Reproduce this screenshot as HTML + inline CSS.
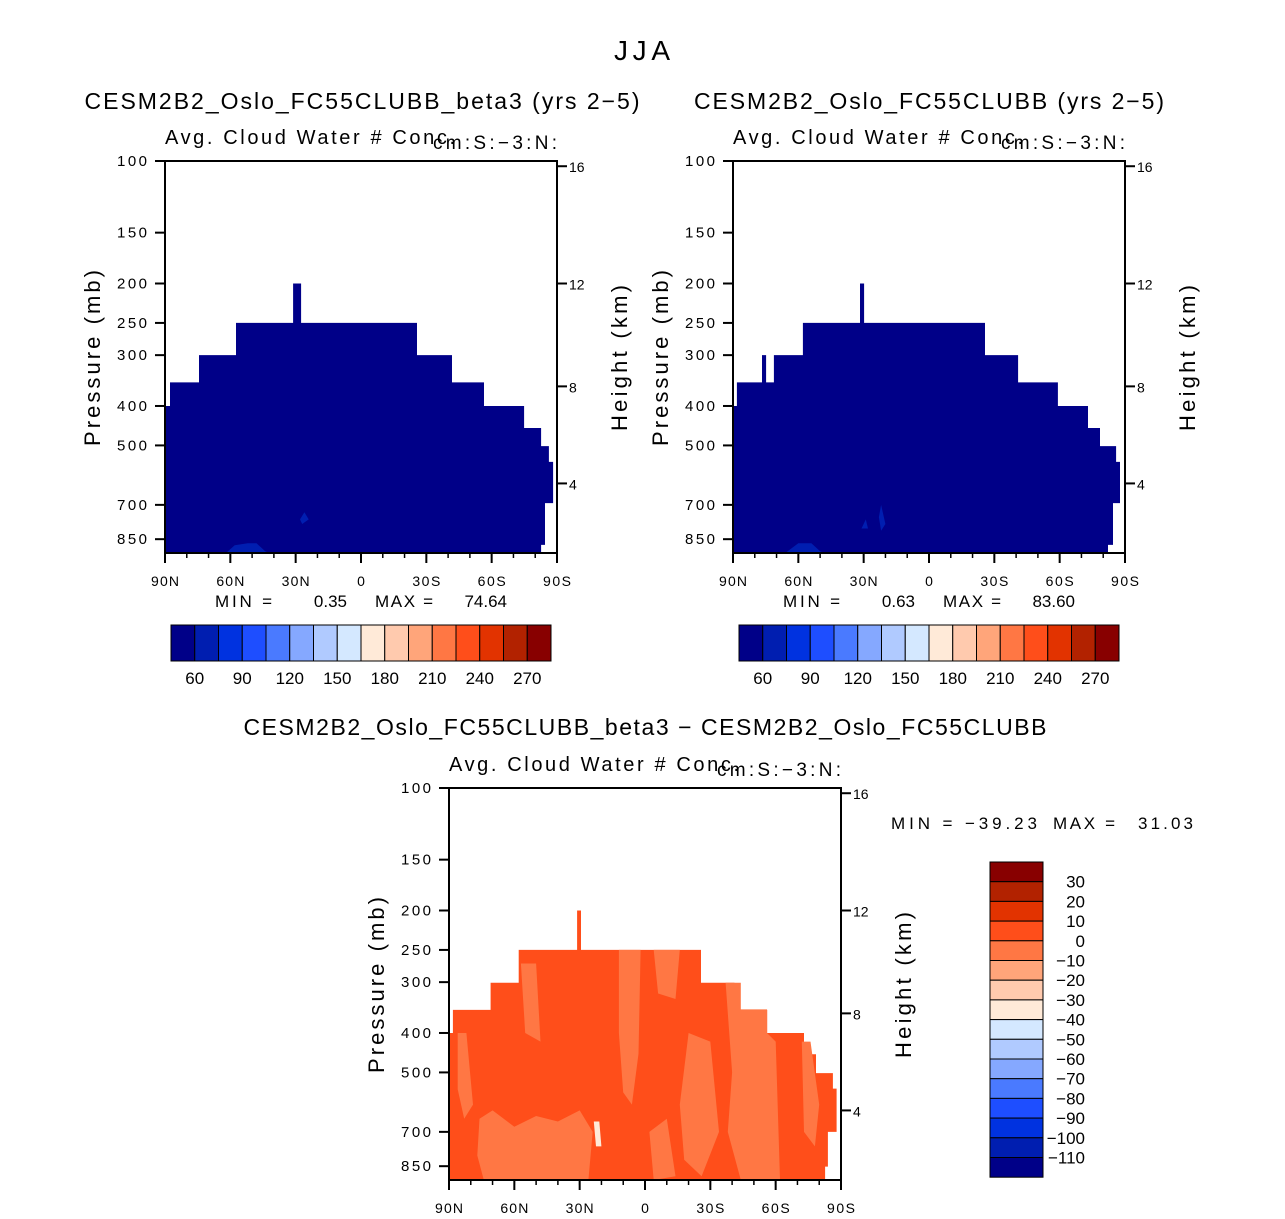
<!DOCTYPE html>
<html><head><meta charset="utf-8"><style>
body{margin:0;background:#fff}
svg{display:block;font-family:"Liberation Sans",sans-serif}
</style></head><body>
<svg id="s" width="1285" height="1219" xmlns="http://www.w3.org/2000/svg"></svg>
<script>
const NS="http://www.w3.org/2000/svg";
const colors=["#000088","#001EB0","#0032E0","#1E4EFF","#4A7AFF","#85A8FF","#B0CAFF","#D4E8FF","#FFEAD8","#FFCAAE","#FFA57A","#FF7744","#FF4E1A","#E23300","#B22200","#880000"];
const cbLabelsTop=["60","90","120","150","180","210","240","270"];
const cbLabelsDiff=["30","20","10","0","−10","−20","−30","−40","−50","−60","−70","−80","−90","−100","−110"];
const latTicks=[90,60,30,0,-30,-60,-90];
const latLabels=["90N","60N","30N","0","30S","60S","90S"];
const presTicks=[100,150,200,250,300,400,500,700,850];
const hgtTicks=[16,12,8,4];
const hgtPres=[103,200,358,620];
const shape1=[[90,925],[90,400],[87.7,400],[87.7,350],[74.4,350],[74.4,300],[57.4,300],[57.4,250],[31.2,250],[31.2,200],[27.5,200],[27.5,250],[-25.7,250],[-25.7,300],[-41.8,300],[-41.8,350],[-56.5,350],[-56.5,400],[-74.9,400],[-74.9,453],[-82.7,453],[-82.7,502],[-86.3,502],[-86.3,549],[-88.2,549],[-88.2,693],[-84.5,693],[-84.5,878],[-82.7,878],[-82.7,925]];
const shape2=[[90,925],[90,400],[88.2,400],[88.2,350],[76.7,350],[76.7,300],[74.8,300],[74.8,350],[71.2,350],[71.2,300],[57.9,300],[57.9,250],[31.7,250],[31.7,200],[29.8,200],[29.8,250],[-25.7,250],[-25.7,300],[-40.9,300],[-40.9,350],[-59.2,350],[-59.2,400],[-73,400],[-73,453],[-78.5,453],[-78.5,502],[-85.9,502],[-85.9,549],[-87.7,549],[-87.7,693],[-84.5,693],[-84.5,878],[-82.2,878],[-82.2,925]];
const shape3=[[90,925],[90,400],[88.2,400],[88.2,351],[70.9,351],[70.9,301],[58,301],[58,250],[31.2,250],[31.2,200],[29.4,200],[29.4,250],[-25.7,250],[-25.7,301],[-41.1,301],[-41.1,351],[-56.1,351],[-56.1,400],[-73,400],[-73,451],[-78.5,451],[-78.5,502],[-86.3,502],[-86.3,548],[-88,548],[-88,700],[-84,700],[-84,852],[-82.7,852],[-82.7,925]];
const spots1=[[[62,925],[58,880],[52,870],[48,870],[44,910],[42,925]],[[28,760],[26,730],[24,760],[27,780]]];
const spots2=[[[66,925],[60,870],[54,870],[50,910],[48,925]],[[31,800],[29,760],[28,800]],[[23,750],[22,700],[20,780],[22,810]]];
const patches3=[
 [[86,400],[82,400],[79,600],[83,650],[86,550]],
 [[-37,301],[-44,301],[-44,350],[-56,350],[-56,400],[-60,420],[-62,925],[-44,925],[-38,700],[-40,500]],
 [[12,250],[2,250],[3,450],[6,600],[10,560],[12,400]],
 [[76,650],[70,620],[60,680],[50,640],[40,660],[30,620],[24,700],[26,925],[74,925],[77,800]],
 [[-72,420],[-76,420],[-80,600],[-78,760],[-73,700]],
 [[-4,250],[-16,250],[-14,330],[-6,320]],
 [[57,270],[50,270],[48,420],[55,400]],
 [[-20,400],[-30,420],[-34,700],[-26,900],[-18,820],[-16,600]],
 [[-2,700],[-10,650],[-14,900],[-4,925]]];
const white3=[[[23.5,660],[21,660],[20,760],[22.5,760]]];
const s=document.getElementById('s');
function el(t,a,p){const e=document.createElementNS(NS,t);for(const k in a)e.setAttribute(k,a[k]);(p||s).appendChild(e);return e;}
function txt(x,y,str,size,anchor,p,len){const a={x:x,y:y,'font-size':size,'text-anchor':anchor||'middle',fill:'#000'};if(len){a.textLength=len;a.lengthAdjust='spacing';}const e=el('text',a,p);e.textContent=str;return e;}
function panel(L,T,name,shape,base,spots,spotColor,whites){
  const W=392,H=392,B=T+H;
  const X=lat=>L+(90-lat)/180*W;
  const Y=p=>T+Math.log10(p/100)*406.9;
  const g=el('g',{});
  
  
  const cp=el('clipPath',{id:'c'+name},g);el('rect',{x:L,y:T,width:W,height:H},cp);
  const d=pts=>'M'+pts.map(q=>X(q[0]).toFixed(1)+','+Math.min(Y(q[1]),B).toFixed(1)).join('L')+'Z';
  const area=el('path',{d:d(shape),fill:base,'clip-path':'url(#c'+name+')'},g);
  
  
  spots.forEach(sp=>{const e=el('path',{d:d(sp),fill:spotColor,'clip-path':'url(#c'+name+')'},g);
    
    });
  (whites||[]).forEach(sp=>{const e=el('path',{d:d(sp),fill:'#FFEAD8'},g);
    
    });
  el('rect',{x:L,y:T,width:W,height:H,fill:'none',stroke:'#000','stroke-width':2},g);
  latTicks.forEach((lt,i)=>{const x=X(lt);el('line',{x1:x,y1:B,x2:x,y2:B+10,stroke:'#000','stroke-width':2},g);
    txt(x,B+33,latLabels[i],14,'middle',g,lt===0?null:28);});
  for(let lt=90;lt>=-90;lt-=10){const x=X(lt);el('line',{x1:x,y1:B,x2:x,y2:B+5,stroke:'#000','stroke-width':1.5},g);}
  presTicks.forEach(p=>{const y=Y(p);el('line',{x1:L,y1:y,x2:L-10,y2:y,stroke:'#000','stroke-width':2},g);
    txt(L-18,y+5,String(p),15,'end',g,30);});
  hgtTicks.forEach((h,i)=>{const y=Y(hgtPres[i]);el('line',{x1:L+W,y1:y,x2:L+W+10,y2:y,stroke:'#000','stroke-width':2},g);
    txt(L+W+12,y+6,String(h),14,'start',g);});
  const cy=T+197;
  let t=txt(L-65,cy,'Pressure (mb)',22,'middle',g,176);t.setAttribute('transform','rotate(-90 '+(L-65)+' '+cy+')');
  t=txt(L+W+70,cy,'Height (km)',22,'middle',g,146);t.setAttribute('transform','rotate(-90 '+(L+W+70)+' '+cy+')');
  txt(L,T-17,'Avg. Cloud Water # Conc.',20,'start',g,290);
  txt(L+W,T-12,'cm:S:−3:N:',19,'end',g,124);
}
function hbar(L,T,name){
  const g=el('g',{});
  const w=23.75;
  colors.forEach((c,i)=>el('rect',{x:L+i*w,y:T,width:w,height:36,fill:c,stroke:'#000','stroke-width':1},g));
  cbLabelsTop.forEach((lb,i)=>txt(L+(1+2*i)*w,T+59,lb,17,'middle',g));
}
function vbar(L,T,name){
  const g=el('g',{});
  const h=19.7;
  colors.slice().reverse().forEach((c,i)=>el('rect',{x:L,y:T+i*h,width:53,height:h,fill:c,stroke:'#000','stroke-width':1},g));
  cbLabelsDiff.forEach((lb,i)=>txt(L+95,T+(1+i)*h+6,lb,17,'end',g));
}
txt(642,60,'JJA',28,'middle',null,56);
txt(362,109,'CESM2B2_Oslo_FC55CLUBB_beta3 (yrs 2−5)',23,'middle',null,555);
txt(929,109,'CESM2B2_Oslo_FC55CLUBB (yrs 2−5)',23,'middle',null,470);
txt(645,735,'CESM2B2_Oslo_FC55CLUBB_beta3 − CESM2B2_Oslo_FC55CLUBB',23,'middle',null,803);
panel(165,161,'panel-beta3',shape1,colors[0],spots1,colors[1]);
panel(733,161,'panel-control',shape2,colors[0],spots2,colors[1]);
panel(449,788,'panel-difference',shape3,colors[12],patches3,colors[11],white3);
txt(215,607,'MIN =',17,'start',null,57);txt(347,607,'0.35',17,'end');txt(433,607,'MAX =',17,'end',null,58);txt(507,607,'74.64',17,'end');
txt(783,607,'MIN =',17,'start',null,57);txt(915,607,'0.63',17,'end');txt(1001,607,'MAX =',17,'end',null,58);txt(1075,607,'83.60',17,'end');
txt(891,829,'MIN = −39.23',17,'start',null,146);txt(1053,829,'MAX =',17,'start',null,62);txt(1193,829,'31.03',17,'end',null,55);
hbar(171,625,'colorbar-beta3');
hbar(739,625,'colorbar-control');
vbar(990,862,'colorbar-difference');
</script>
</body></html>
